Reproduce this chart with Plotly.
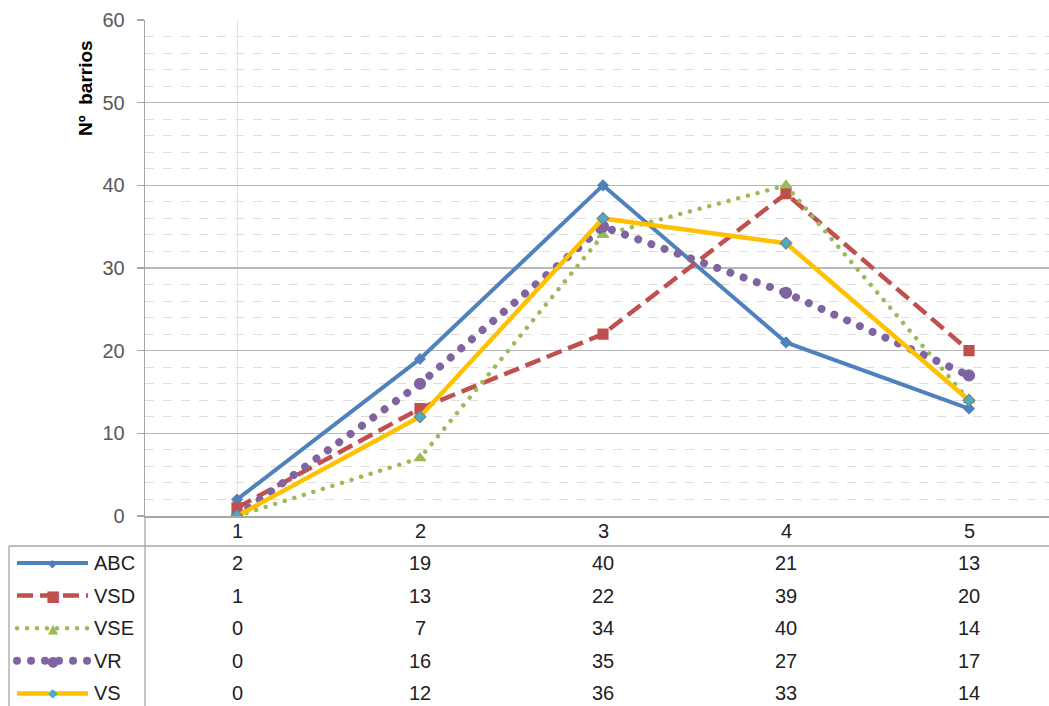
import plotly.graph_objects as go

# ---------------- data ----------------
categories = [1, 2, 3, 4, 5]
series_names = ["ABC", "VSD", "VSE", "VR", "VS"]
abc = [2, 19, 40, 21, 13]
vsd = [1, 13, 22, 39, 20]
vse = [0, 7, 34, 40, 14]
vr = [0, 16, 35, 27, 17]
vs = [0, 12, 36, 33, 14]
series_values = [abc, vsd, vse, vr, vs]
y_ticks = [0, 10, 20, 30, 40, 50, 60]
y_title = "Nº  barrios"

# ---------------- styles ----------------
styles = [
    dict(color="#4F81BD", dash="solid", width=4, symbol="diamond", msize=8,
         mcolor="#4F81BD", mline="#4F81BD", key="◆", ksize=11, kcolor="#4F81BD"),
    dict(color="#C0504D", dash="16px,7px", width=4.5, symbol="square", msize=10,
         mcolor="#C0504D", mline="#C0504D", key="■", ksize=15, kcolor="#C0504D"),
    dict(color="#9BBB59", dash="4px,6px", width=4.5, symbol="triangle-up", msize=10,
         mcolor="#9BBB59", mline="#9BBB59", key="▲", ksize=13, kcolor="#9BBB59"),
    dict(color="#8064A2", dash="7px,7px", width=8, symbol="circle", msize=11,
         mcolor="#8064A2", mline="#8064A2", key="●", ksize=14, kcolor="#8064A2"),
    dict(color="#FFC000", dash="solid", width=4.5, symbol="diamond", msize=9,
         mcolor="#4BACC6", mline="#7F7F7F", key="◆", ksize=12, kcolor="#4BACC6"),
]

FONT = "Liberation Sans, Arial, sans-serif"
W, H = 1049, 706
L, T, BOT = 145, 20, 516
PW, PH = W - L, BOT - T
STEP = 183.0


def px(p):
    return (p - L) / PW


def py(p):
    return (BOT - p) / PH


fig = go.Figure()
for name, vals, st in zip(series_names, series_values, styles):
    fig.add_trace(go.Scatter(
        x=categories, y=vals, name=name, mode="lines+markers",
        line=dict(color=st["color"], width=st["width"], dash=st["dash"]),
        marker=dict(symbol=st["symbol"], size=st["msize"], color=st["mcolor"],
                    line=dict(color=st["mline"], width=1.2)),
        showlegend=False, hoverinfo="skip",
    ))

annotations = []
shapes = []

# y-axis title
annotations.append(dict(
    text="<b>" + y_title + "</b>", x=px(85), y=py(88), xref="paper", yref="paper",
    textangle=-90, showarrow=False, xanchor="center", yanchor="middle",
    font=dict(family=FONT, size=19, color="#000000")))

# data table: header
header_y = 531
for c in categories:
    annotations.append(dict(
        text=str(c), x=c, y=py(header_y), xref="x", yref="paper", showarrow=False,
        xanchor="center", yanchor="middle", font=dict(family=FONT, size=20, color="#222222")))

row0, rstep = 563, 32.6
for i, (name, vals, st) in enumerate(zip(series_names, series_values, styles)):
    ry = py(row0 + i * rstep)
    for c, v in zip(categories, vals):
        annotations.append(dict(
            text=str(v), x=c, y=ry, xref="x", yref="paper", showarrow=False,
            xanchor="center", yanchor="middle", font=dict(family=FONT, size=20, color="#222222")))
    annotations.append(dict(
        text=name, x=px(92), y=ry, xref="paper", yref="paper", showarrow=False,
        xanchor="left", yanchor="middle", font=dict(family=FONT, size=20, color="#222222")))
    shapes.append(dict(
        type="line", xref="paper", yref="paper", x0=px(17), x1=px(88), y0=ry, y1=ry,
        line=dict(color=st["color"], width=st["width"], dash=st["dash"])))
    annotations.append(dict(
        text=st["key"], x=px(52.5), y=ry, xref="paper", yref="paper", showarrow=False,
        xanchor="center", yanchor="middle",
        font=dict(family="DejaVu Sans", size=st["ksize"], color=st["kcolor"])))

AX = "#A6A6A6"
# table lines
shapes.append(dict(type="line", xref="paper", yref="paper", x0=0, x1=0, y0=0, y1=py(H),
                   line=dict(color=AX, width=1.3)))
shapes.append(dict(type="line", xref="paper", yref="paper", x0=px(9), x1=1, y0=py(546), y1=py(546),
                   line=dict(color=AX, width=1.3)))
shapes.append(dict(type="line", xref="paper", yref="paper", x0=px(9), x1=px(9), y0=py(546), y1=py(H),
                   line=dict(color=AX, width=1.3)))

x_start = 1 - (237 - L) / STEP
x_end = x_start + PW / STEP

fig.update_layout(
    width=W, height=H,
    margin=dict(l=L, r=0, t=T, b=H - BOT, pad=0),
    paper_bgcolor="white", plot_bgcolor="white",
    font=dict(family=FONT, size=20, color="#595959"),
    xaxis=dict(range=[x_start, x_end], tickvals=[1], showticklabels=False,
               showgrid=True, gridcolor="#E3E3E3", gridwidth=1, zeroline=False,
               showline=True, linecolor=AX, linewidth=1.5, ticks=""),
    yaxis=dict(range=[0, 60], tickvals=y_ticks, showgrid=True, gridcolor="#B8B8B8", gridwidth=1.4,
               zeroline=False, showline=True, linecolor=AX, linewidth=1.3,
               ticks="outside", ticklen=7, tickcolor=AX, tickwidth=1.3,
               ticklabelstandoff=8,
               tickfont=dict(family=FONT, size=20, color="#595959"),
               minor=dict(dtick=2, showgrid=True, gridcolor="#DEDEDE", griddash="dash",
                          gridwidth=1, ticks="")),
    annotations=annotations, shapes=shapes,
)

post = """
document.body.style.margin = '0';
document.body.style.padding = '0';
var gd = document.getElementById('{plot_id}');
gd.querySelectorAll('path').forEach(function(p){
  var d = (p.style.strokeDasharray || '').replace(/\\s/g, '');
  if (d === '7px,7px') { p.style.strokeDasharray = '0.01px,14px'; p.style.strokeLinecap = 'round'; }
  else if (d === '4px,6px') { p.style.strokeDasharray = '0.01px,10px'; p.style.strokeLinecap = 'round'; }
});
"""

fig.write_html("out.html", post_script=post, config={"displayModeBar": False, "staticPlot": True})
